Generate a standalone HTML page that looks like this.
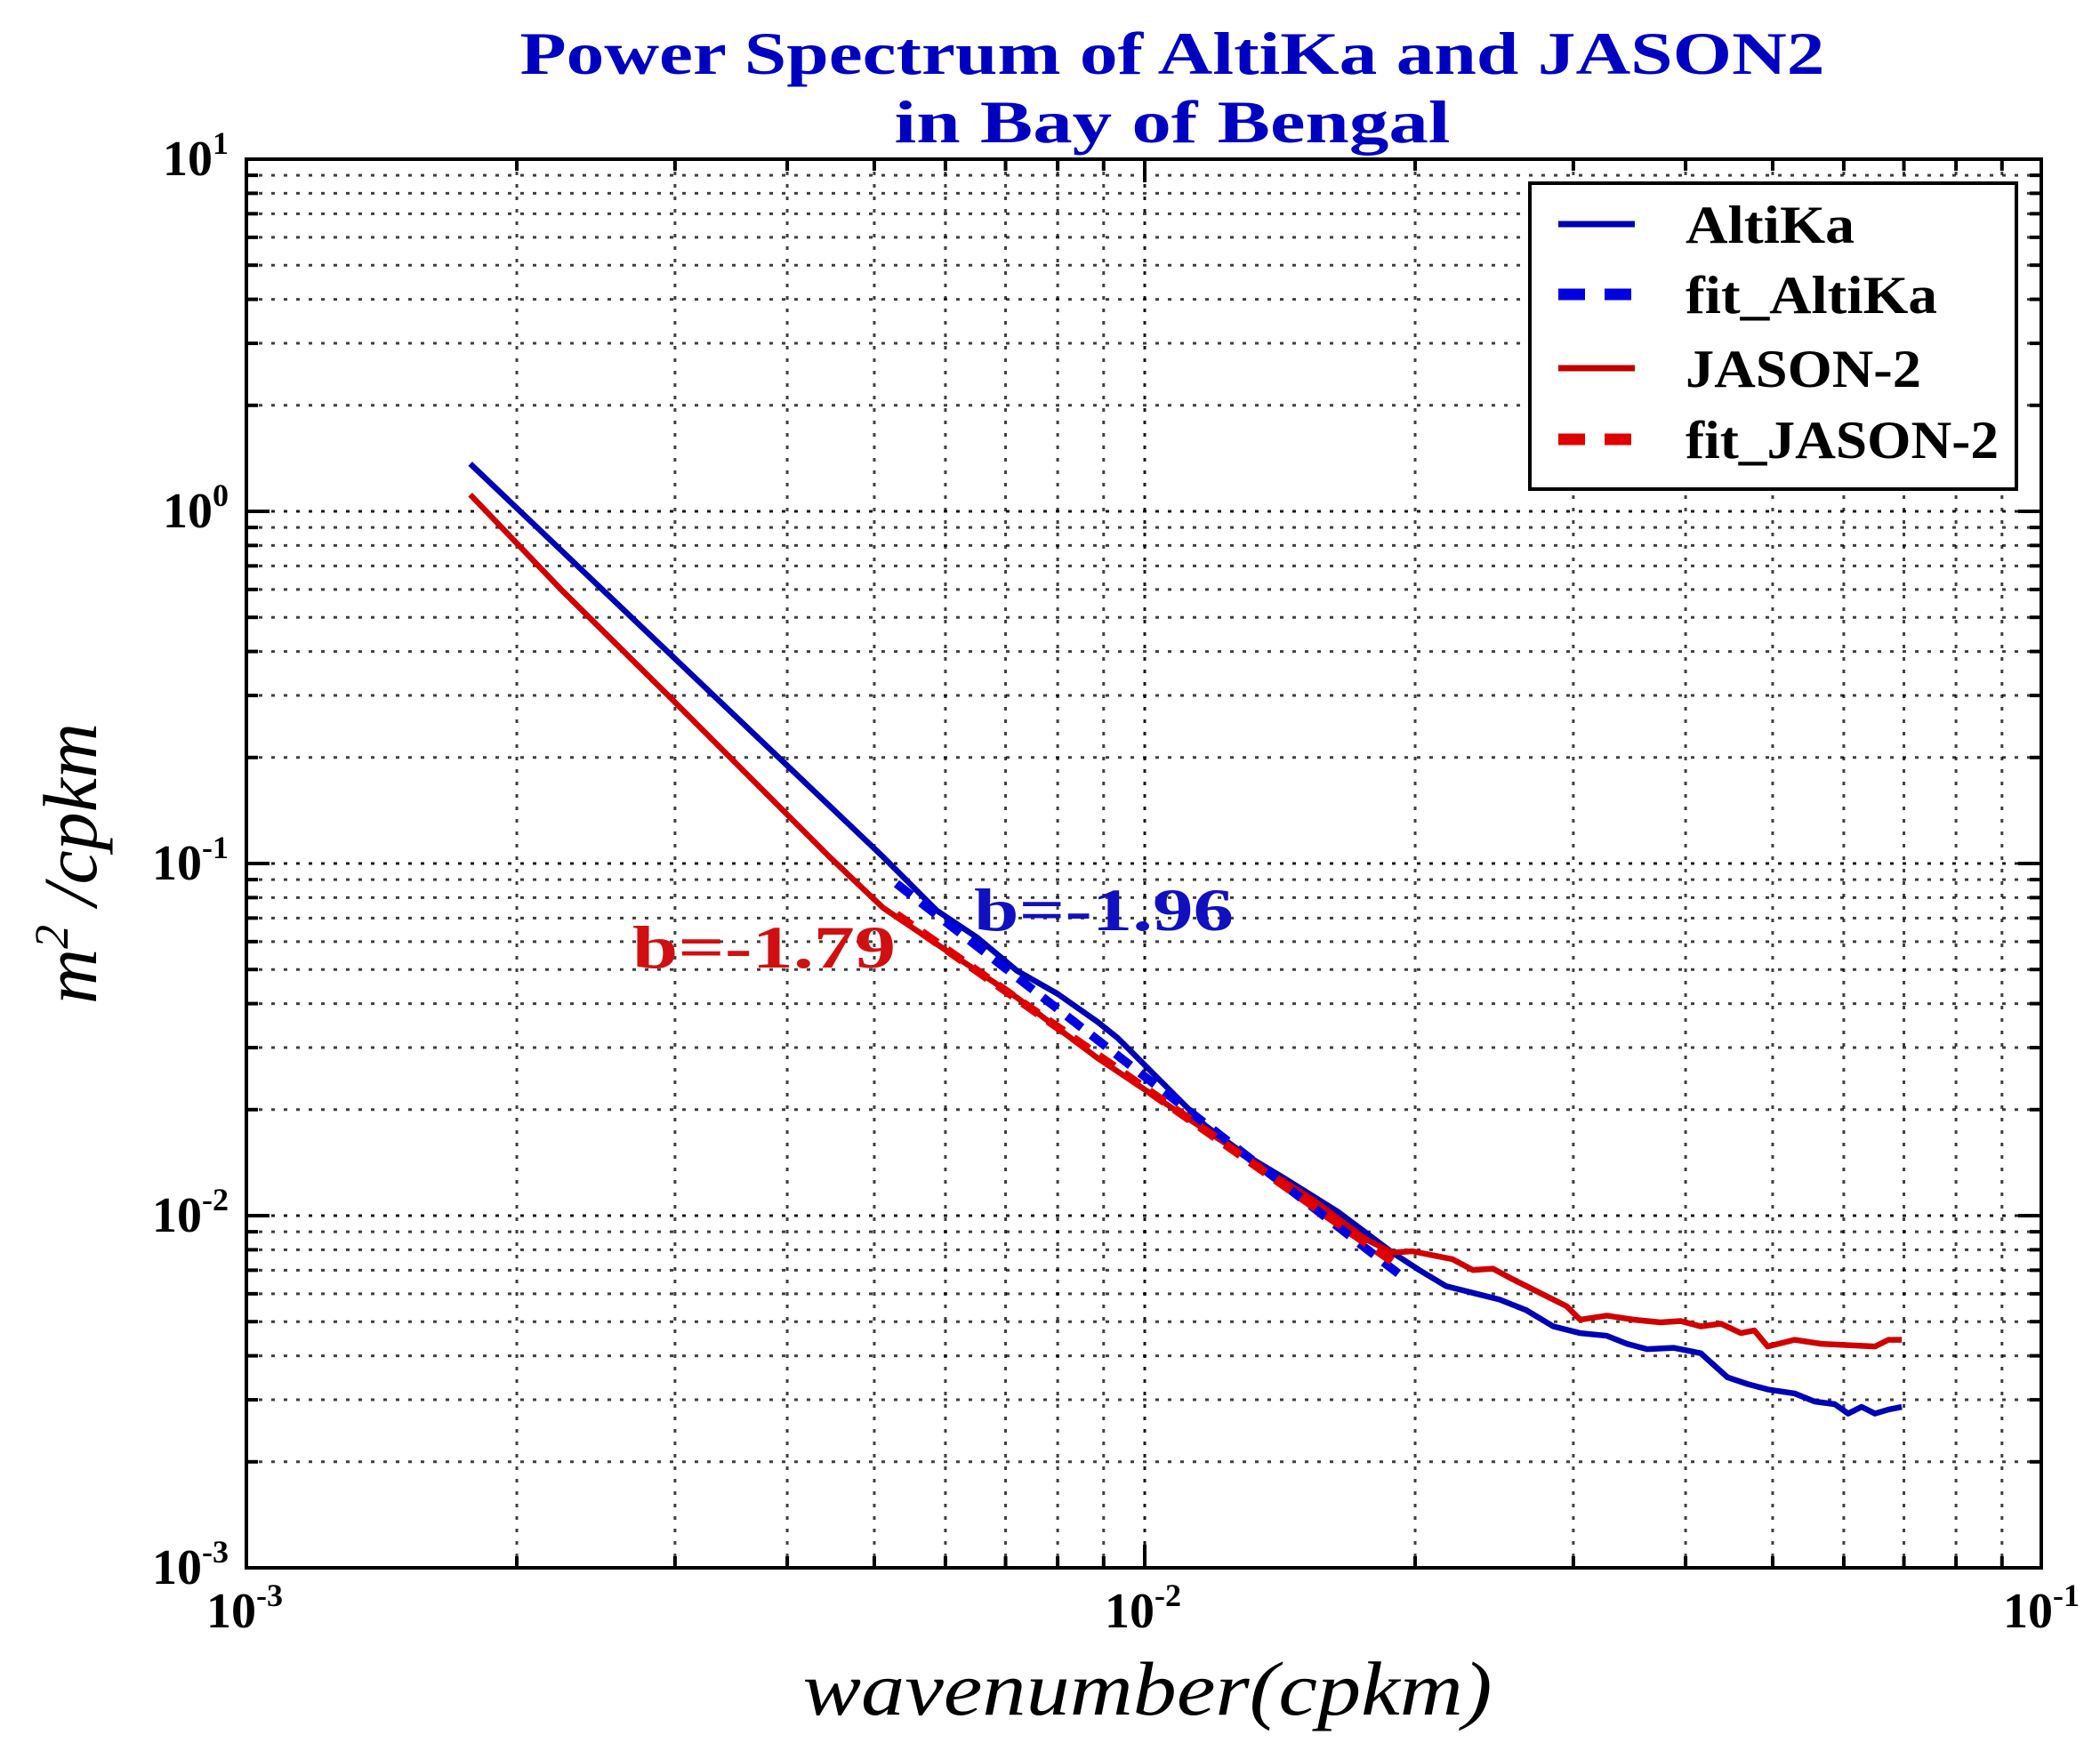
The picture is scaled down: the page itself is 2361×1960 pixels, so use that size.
<!DOCTYPE html>
<html><head><meta charset="utf-8">
<style>
html,body{margin:0;padding:0;background:#fff;}
svg{display:block;}
text{font-family:"Liberation Serif","DejaVu Serif",serif;}
</style></head>
<body>
<svg id="s" width="2361" height="1960" viewBox="0 0 2361 1960" xmlns="http://www.w3.org/2000/svg">
<rect width="2361" height="1960" fill="#fff"/>
<g id="grid"></g>
<g id="ticks"></g>
<g transform="translate(-1.8,-2.0) scale(1.507,1.5086)">
<polyline fill="none" stroke="#0000b4" stroke-width="4.3" stroke-linejoin="round" points="352,347 660,640 700,680 730,700 760,725 790,742 820,763 835,775 850,790 875,815 900,840 930,862 960,880 1000,905 1040,935 1060,948 1080,960 1100,965 1120,970 1140,978 1160,990 1180,995 1200,997 1215,1003 1230,1007 1250,1006 1270,1010 1290,1028 1305,1033 1320,1037 1340,1040 1355,1046 1370,1048 1380,1055 1390,1050 1400,1055 1410,1052 1420,1050"/>
<polyline fill="none" stroke="#d00000" stroke-width="4.3" stroke-linejoin="round" points="352,370 420,441 500,520 560,580 620,640 660,678 700,705 760,745 820,790 880,830 940,870 980,895 1020,925 1040,935 1055,934 1070,937 1085,940 1100,948 1115,947 1130,955 1150,965 1170,975 1180,985 1200,982 1220,985 1240,987 1255,986 1270,990 1285,988 1300,995 1310,993 1320,1005 1340,1000 1360,1003 1380,1004 1400,1005 1410,1000 1420,1000"/>
<line x1="670" y1="660" x2="1050" y2="955" stroke="#0000e0" stroke-width="6.5" stroke-dasharray="14,9"/>
<line x1="670" y1="683" x2="1045" y2="945" stroke="#e00000" stroke-width="6.5" stroke-dasharray="14,9"/>
</g>
<rect x="277" y="179" width="2018" height="1584" fill="none" stroke="#000" stroke-width="4"/>
<!-- legend -->
<rect x="1720" y="206" width="547" height="344" fill="#fff" stroke="#000" stroke-width="4"/>
<line x1="1752" y1="252" x2="1838" y2="252" stroke="#0000b4" stroke-width="7"/>
<line x1="1752" y1="331" x2="1838" y2="331" stroke="#0000e0" stroke-width="13" stroke-dasharray="30,22"/>
<line x1="1752" y1="414" x2="1838" y2="414" stroke="#c00000" stroke-width="7"/>
<line x1="1752" y1="494" x2="1838" y2="494" stroke="#e00000" stroke-width="13" stroke-dasharray="30,22"/>
<g font-size="60" font-weight="bold" fill="#000">
<text x="1895" y="273" textLength="190" lengthAdjust="spacingAndGlyphs">AltiKa</text>
<text x="1895" y="352" textLength="283" lengthAdjust="spacingAndGlyphs">fit_AltiKa</text>
<text x="1895" y="435" textLength="265" lengthAdjust="spacingAndGlyphs">JASON-2</text>
<text x="1895" y="515" textLength="352" lengthAdjust="spacingAndGlyphs">fit_JASON-2</text>
</g>
<g font-size="68" font-weight="bold" fill="#0000c0" text-anchor="middle">
<text x="1318" y="83" textLength="1467" lengthAdjust="spacingAndGlyphs">Power Spectrum of AltiKa and JASON2</text>
<text x="1318" y="160" textLength="625" lengthAdjust="spacingAndGlyphs">in Bay of Bengal</text>
</g>
<text x="1095" y="1046" font-size="68" font-weight="bold" fill="#1010c0" textLength="292" lengthAdjust="spacingAndGlyphs">b=-1.96</text>
<text x="711" y="1088" font-size="68" font-weight="bold" fill="#d01010" textLength="296" lengthAdjust="spacingAndGlyphs">b=-1.79</text>
<g id="tl" font-weight="bold" fill="#000"></g>
<text x="1290" y="1928" font-size="86" font-style="italic" text-anchor="middle" textLength="775" lengthAdjust="spacingAndGlyphs">wavenumber(cpkm)</text>
<text transform="translate(108,971) rotate(-90)" font-size="86" font-style="italic" text-anchor="middle">m<tspan dy="-32" font-size="54">2</tspan><tspan dy="32"> /cpkm</tspan></text>
</svg>
<script>
(function(){
var ns="http://www.w3.org/2000/svg";
var L=277,R=2295,T=179,B=1763,DX=1010,DY=396;
var g=document.getElementById('grid'),tk=document.getElementById('ticks'),tl=document.getElementById('tl');
function el(p,n,a){var e=document.createElementNS(ns,n);for(var k in a)e.setAttribute(k,a[k]);p.appendChild(e);return e;}
for(var d=0;d<2;d++)for(var m=1;m<10;m++){
 var x=L+DX*(d+Math.log10(m));
 if(x<=L+1)continue;
 el(g,'line',{x1:x,y1:T,x2:x,y2:B,stroke:'#000','stroke-width':3,'stroke-dasharray':'4,10',opacity:m==1?0.9:0.75});
 var len=m==1?26:13;
 el(tk,'line',{x1:x,y1:B,x2:x,y2:B-len,stroke:'#000','stroke-width':4});
 el(tk,'line',{x1:x,y1:T,x2:x,y2:T+len,stroke:'#000','stroke-width':4});
}
for(var d=0;d<4;d++)for(var m=1;m<10;m++){
 var y=B-DY*(d+Math.log10(m));
 if(y>=B-1)continue;
 el(g,'line',{x1:L,y1:y,x2:R,y2:y,stroke:'#000','stroke-width':3,'stroke-dasharray':'4,10',opacity:m==1?0.9:0.75});
 var len=m==1?26:13;
 el(tk,'line',{x1:L,y1:y,x2:L+len,y2:y,stroke:'#000','stroke-width':4});
 el(tk,'line',{x1:R,y1:y,x2:R-len,y2:y,stroke:'#000','stroke-width':4});
}
var ex=['-3','-2','-1','0','1'];
for(var i=0;i<5;i++){
 var y=B-DY*i;
 var t=el(tl,'text',{x:257,y:y+18,'font-size':56,'text-anchor':'end'});
 t.textContent='10';
 var s=el(t,'tspan',{dy:-24,'font-size':36});s.textContent=ex[i];
}
for(var i=0;i<3;i++){
 var x=L+DX*i;
 var t=el(tl,'text',{x:x-45,y:1830,'font-size':56});
 t.textContent='10';
 var s=el(t,'tspan',{dy:-24,'font-size':36});s.textContent=ex[i];
}
})();
</script>
</body></html>
